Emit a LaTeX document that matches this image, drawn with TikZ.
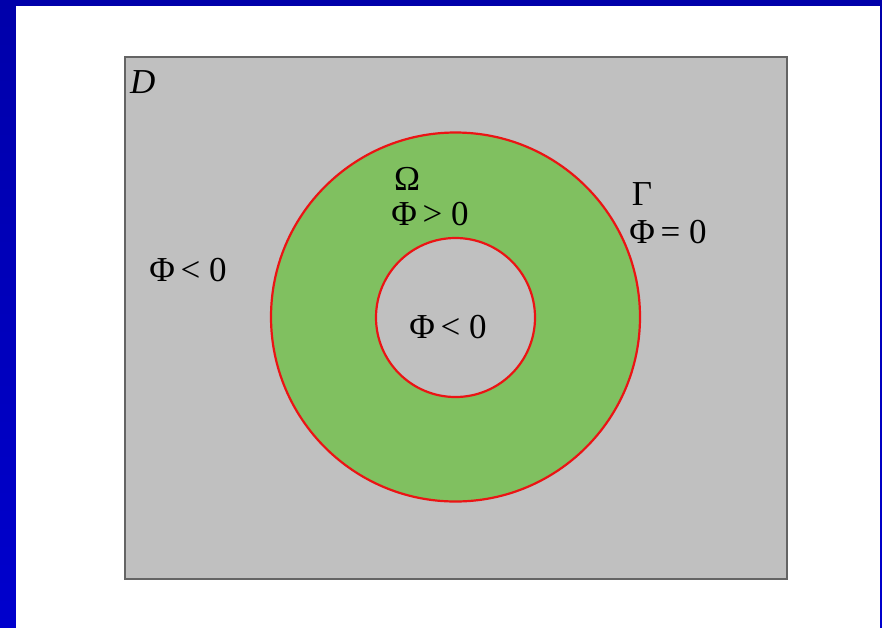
\documentclass[tikz,border=0pt]{standalone}
\usepackage{fontspec}
\setmainfont{Liberation Serif}
\definecolor{marco}{RGB}{0,0,170}
\definecolor{marcob}{RGB}{0,0,205}
\definecolor{dominio}{RGB}{192,192,192}
\definecolor{borde}{RGB}{100,100,100}
\definecolor{anillo}{RGB}{128,192,96}
\definecolor{frontera}{RGB}{235,20,20}
\tikzset{
  etiqueta/.style={inner sep=0pt, font=\fontsize{35}{38}\selectfont},
}
\begin{document}
\begin{tikzpicture}[x=1pt, y=-1pt]
        % Fondo (marco azul y hoja blanca)
        \shade[top color=marco, bottom color=marcob] (0,0) rectangle (882,627);
        \fill[white] (16,6) rectangle (880,630);
        \useasboundingbox (0,0) rectangle (882,627);

        % Dominio D
        \draw[line width=2.5pt, draw=borde, fill=dominio] (125,57) rectangle (787,579);
        \node[etiqueta, anchor=north west] (nomD) at (130,70) {\textit{D}};

        % Anillo Omega con fronteras Gamma
        \draw[line width=2.2pt, draw=frontera, fill=anillo] (455.5,317) circle (184.5);
        \draw[line width=2.2pt, draw=frontera, fill=dominio] (455.5,317.5) circle (79.5);

        % Leyendas
        \node[etiqueta] (omega) at (407,179) {Ω};
        \node[etiqueta] (dentro) at (430,214) {Φ\,> 0};
        \node[etiqueta] (gamma) at (642,194) {Γ};
        \node[etiqueta] (borde0) at (668,232) {Φ\,= 0};
        \node[etiqueta] (fuera) at (188,270) {Φ\,< 0};
        \node[etiqueta] (hueco) at (448,327) {Φ\,< 0};
\end{tikzpicture}
\end{document}
